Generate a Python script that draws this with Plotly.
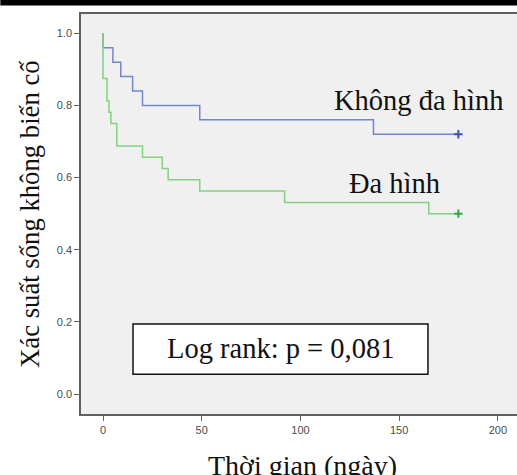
import plotly.graph_objects as go

# Kaplan-Meier data
time_khong = [0, 0, 5, 9, 15, 20, 49, 137, 180]
surv_khong = [1.0, 0.96, 0.92, 0.88, 0.84, 0.80, 0.76, 0.72, 0.72]

time_da = [0, 0, 2, 3, 4, 7, 20, 30, 33, 49, 92, 165, 180]
surv_da = [1.0, 0.875, 0.8125, 0.78125, 0.75, 0.6875, 0.65625, 0.625, 0.59375, 0.5625, 0.53125, 0.5, 0.5]

x_ticks = [0, 50, 100, 150, 200]
y_ticks = [0.0, 0.2, 0.4, 0.6, 0.8, 1.0]
y_tick_labels = ["0.0", "0.2", "0.4", "0.6", "0.8", "1.0"]

label_khong = "Không đa hình"
label_da = "Đa hình"
logrank_text = "Log rank: p = 0,081"
x_title = "Thời gian (ngày)"
y_title = "Xác suất sống không biến cố"

BLUE = "#7386c9"
BLUE_MARK = "#3a4fb0"
GREEN = "#82d282"
GREEN_MARK = "#2ea84a"
SERIF = "Liberation Serif, Times New Roman, serif"
SANS = "Liberation Sans, Arial, sans-serif"

fig = go.Figure()
fig.add_trace(go.Scatter(x=time_khong, y=surv_khong, mode="lines", line=dict(color=BLUE, width=1.5, shape="hv"),
                         showlegend=False, hoverinfo="skip"))
fig.add_trace(go.Scatter(x=time_da, y=surv_da, mode="lines", line=dict(color=GREEN, width=1.5, shape="hv"),
                         showlegend=False, hoverinfo="skip"))
# censor marks at the end
fig.add_trace(go.Scatter(x=[time_khong[-1]], y=[surv_khong[-1]], mode="markers",
                         marker=dict(symbol="cross-thin", size=6, line=dict(width=2, color=BLUE_MARK)),
                         showlegend=False, hoverinfo="skip"))
fig.add_trace(go.Scatter(x=[time_da[-1]], y=[surv_da[-1]], mode="markers",
                         marker=dict(symbol="cross-thin", size=6, line=dict(width=2, color=GREEN_MARK)),
                         showlegend=False, hoverinfo="skip"))

fig.add_annotation(x=159.6, y=0.815, text=label_khong, showarrow=False, xref="x", yref="y",
                   font=dict(family=SERIF, size=28.5, color="#111"))
fig.add_annotation(x=147.4, y=0.585, text=label_da, showarrow=False, xref="x", yref="y",
                   font=dict(family=SERIF, size=28.5, color="#111"))

# Log rank box
fig.add_shape(type="rect", xref="x", yref="y", x0=15.2, x1=164.6, y0=0.055, y1=0.194,
              fillcolor="white", line=dict(color="#111", width=1.5), layer="above")
fig.add_annotation(x=89.9, y=0.125, text=logrank_text, showarrow=False, xref="x", yref="y",
                   font=dict(family=SERIF, size=28.5, color="#111"))

# axis titles
fig.add_annotation(x=0.508, y=-0.085, xref="paper", yref="paper", text=x_title, showarrow=False,
                   xanchor="center", yanchor="top", font=dict(family=SERIF, size=28, color="#111"))
fig.add_annotation(x=-0.117, y=0.5, xref="paper", yref="paper", text=y_title, showarrow=False,
                   textangle=-90, xanchor="center", yanchor="middle", font=dict(family=SERIF, size=26.7, color="#111"))

# black band at top of the image
fig.add_shape(type="rect", xref="paper", yref="paper", x0=-0.185, x1=1.0, y0=1.021, y1=1.035,
              fillcolor="black", line=dict(width=0), layer="above")

fig.update_layout(
    width=517, height=475,
    margin=dict(l=81, r=0, t=14, b=61),
    paper_bgcolor="white", plot_bgcolor="#f0f0f0",
    xaxis=dict(range=[-11.15, 209.7], tickvals=x_ticks, showgrid=False, zeroline=False,
               showline=True, linecolor="#606060", linewidth=1.5, mirror=True,
               ticks="outside", ticklen=5, tickcolor="#606060", tickwidth=1,
               tickfont=dict(family=SANS, size=11, color="#4a4a4a")),
    yaxis=dict(range=[-0.0554, 1.0535], tickvals=y_ticks, ticktext=y_tick_labels, showgrid=False, zeroline=False,
               showline=True, linecolor="#606060", linewidth=1.5,
               ticks="outside", ticklen=5, tickcolor="#606060", tickwidth=1,
               tickfont=dict(family=SANS, size=11, color="#4a4a4a")),
)

fig.write_html("out.html", config={"displayModeBar": False},
               post_script="document.body.style.margin='0';document.body.style.overflow='hidden';")
